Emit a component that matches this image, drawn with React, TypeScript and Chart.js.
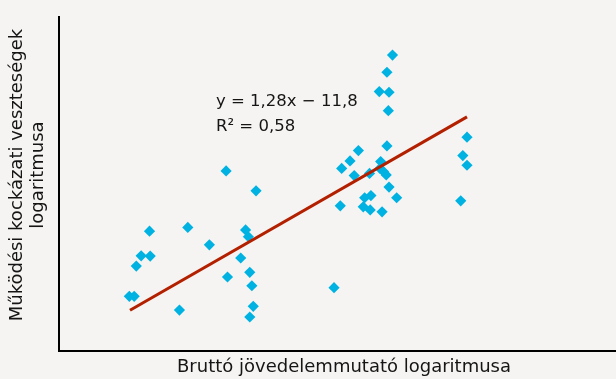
import React, { useEffect, useRef } from "react";
import { Chart, registerables } from "chart.js";

Chart.register(...registerables);

// Scatter observations (log of gross income indicator vs log of operational risk losses)
const xValues = [
  12.40, 12.83, 11.30, 11.85, 12.68, 12.72, 12.16, 11.18, 11.31, 11.11,
  12.61, 12.42, 12.74, 12.77, 11.01, 11.08, 11.73, 12.79, 12.74, 13.95,
  14.79, 14.71, 14.60, 14.74, 14.73, 14.71, 14.30, 14.18, 14.06, 14.62,
  14.61, 14.66, 14.70, 14.24, 14.46, 14.74, 14.85, 14.48, 14.39, 14.37,
  14.47, 14.64, 14.04, 15.86, 15.80, 15.86, 15.77,
];
const yValues = [
  6.77, 6.13, 4.84, 4.96, 4.88, 4.66, 4.40, 4.05, 4.04, 3.72,
  3.98, 3.37, 3.52, 3.09, 2.75, 2.75, 2.31, 2.43, 2.09, 3.03,
  10.48, 9.93, 9.31, 9.29, 8.70, 7.57, 7.42, 7.09, 6.85, 7.07,
  6.85, 6.75, 6.64, 6.62, 6.69, 6.25, 5.91, 5.98, 5.91, 5.62,
  5.52, 5.46, 5.65, 7.85, 7.26, 6.95, 5.81,
];

// Regression line: y = 1.28x - 11.8 over the observed x span
const trendX = [11.02, 15.86];
const slope = 1.28;
const intercept = -11.8;

const xRange = [10, 18];
const yRange = [1, 11.7];

const equationLines = ["y = 1,28x \u2212 11,8", "R\u00b2 = 0,58"];
const xTitle = "Bruttó jövedelemmutató logaritmusa";
const yTitle = ["Működési kockázati veszteségek", "logaritmusa"];

const BG = "#F5F4F2";
const POINT_COLOR = "#00B2E2";
const LINE_COLOR = "#B22000";
const TEXT_COLOR = "#151515";
const FONT = "'DejaVu Sans', sans-serif";

const textPlugin = {
  id: "textPlugin",
  beforeDraw(chart: any) {
    const { ctx, width, height } = chart;
    ctx.save();
    ctx.fillStyle = BG;
    ctx.fillRect(0, 0, width, height);
    ctx.restore();
  },
  afterDraw(chart: any) {
    const { ctx } = chart;
    ctx.save();
    ctx.fillStyle = TEXT_COLOR;
    ctx.textBaseline = "middle";

    // equation
    ctx.font = `16.5px ${FONT}`;
    ctx.textAlign = "left";
    ctx.fillText(equationLines[0], 216, 101.5);
    ctx.fillText(equationLines[1], 216, 126.5);

    // x title
    ctx.font = `18px ${FONT}`;
    ctx.textAlign = "center";
    ctx.fillText(xTitle, 344, 367);

    // y title (rotated)
    ctx.translate(0, 175);
    ctx.rotate(-Math.PI / 2);
    ctx.fillText(yTitle[0], 0, 17);
    ctx.fillText(yTitle[1], 0, 38);
    ctx.restore();
  },
};

export default function App() {
  const canvasRef = useRef<HTMLCanvasElement | null>(null);

  useEffect(() => {
    document.body.style.margin = "0";
    document.body.style.background = BG;
    const canvas = canvasRef.current;
    if (!canvas) return;

    const points = xValues.map((x, i) => ({ x, y: yValues[i] }));
    const trend = trendX.map((x) => ({ x, y: slope * x + intercept }));

    const chart = new Chart(canvas, {
      type: "scatter",
      data: {
        datasets: [
          {
            label: "Trend",
            data: trend,
            showLine: true,
            borderColor: LINE_COLOR,
            borderWidth: 3,
            pointRadius: 0,
            pointHoverRadius: 0,
          } as any,
          {
            label: "Adatok",
            data: points,
            pointStyle: "rectRot",
            pointRadius: 5.6,
            pointHoverRadius: 5.6,
            backgroundColor: POINT_COLOR,
            borderColor: POINT_COLOR,
            borderWidth: 0,
          } as any,
        ],
      },
      options: {
        animation: false,
        responsive: false,
        events: [],
        layout: {
          autoPadding: false,
          padding: { left: 59, top: 17, right: 0, bottom: 28 },
        },
        plugins: {
          legend: { display: false },
          tooltip: { enabled: false },
        },
        scales: {
          x: {
            type: "linear",
            min: xRange[0],
            max: xRange[1],
            ticks: { display: false },
            grid: { display: false, drawTicks: false, tickLength: 0 },
            border: { display: true, color: "#000", width: 2 },
          },
          y: {
            type: "linear",
            min: yRange[0],
            max: yRange[1],
            ticks: { display: false },
            grid: { display: false, drawTicks: false, tickLength: 0 },
            border: { display: true, color: "#000", width: 2 },
          },
        },
      } as any,
      plugins: [textPlugin],
    });

    return () => chart.destroy();
  }, []);

  return (
    <div style={{ width: 616, height: 379, background: BG }}>
      <canvas ref={canvasRef} width={616} height={379} style={{ display: "block" }} />
    </div>
  );
}
